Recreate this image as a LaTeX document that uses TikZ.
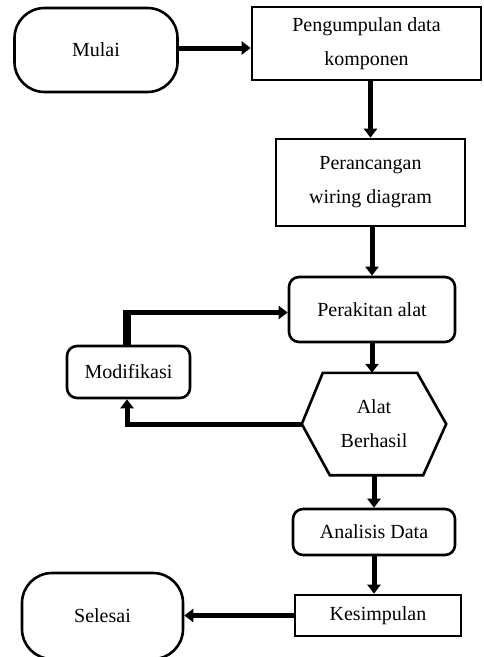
\documentclass[tikz,border=0pt]{standalone}
\usepackage{fontspec}
\setmainfont{Liberation Serif}
\usetikzlibrary{arrows.meta,calc}
\begin{document}
\begin{tikzpicture}[x=1pt,y=-1pt,
  txt/.style={font=\fontsize{20}{34}\selectfont, align=center, inner sep=0pt},
  boxrect/.style={txt, draw, line width=2.6pt, rectangle},
  boxround/.style={txt, draw, line width=2.6pt, rectangle, rounded corners=10pt},
  stadium/.style={txt, draw, line width=2.6pt, rectangle, rounded corners=30pt},
  arr/.style={line width=5pt, -{Triangle[length=9pt,width=13pt]}}
]
\useasboundingbox (0,0) rectangle (483,657);
\fill[white] (0,0) rectangle (483,657);

\node[stadium, minimum width=163pt, minimum height=84pt] (mulai) at (96,50) {Mulai};
\node[boxrect, minimum width=229pt, minimum height=73pt] (peng) at (366.5,43.5) {\raisebox{-3pt}{Pengumpulan data}\\\raisebox{-3pt}{komponen}};
\node[boxrect, minimum width=189pt, minimum height=87pt] (perc) at (370.5,182.5) {Perancangan\\wiring diagram};
\node[boxround, minimum width=166pt, minimum height=65pt] (perak) at (372,309.5) {Perakitan alat};
\node[txt, minimum width=144pt, minimum height=102pt] (alat) at (374,424) {Alat\\Berhasil};
\draw[line width=2.6pt, line join=miter]
  (alat.west) -- ($(alat.north west)+(21,0)$) -- ($(alat.north east)+(-29,0)$)
  -- (alat.east) -- ($(alat.south east)+(-23,0)$) -- ($(alat.south west)+(28,0)$) -- cycle;
\node[boxround, minimum width=123pt, minimum height=52pt] (modif) at (128.5,372) {Modifikasi};
\node[boxround, minimum width=162pt, minimum height=46pt] (ana) at (374,532) {Analisis Data};
\node[boxrect, minimum width=166pt, minimum height=41pt] (kes) at (378,615.5) {Kesimpulan};
\node[stadium, minimum width=161pt, minimum height=86pt] (sel) at (102.5,616) {Selesai};

\coordinate (m1) at ($(mulai.east)+(0,-2)$);
\coordinate (mt) at ($(modif.north)+(-1.5,0)$);
\coordinate (mb) at ($(modif.south)+(-1.5,0)$);
\coordinate (pw) at ($(perak.west)+(0,3)$);

\draw[arr] (m1) -- (m1 -| peng.west);
\draw[arr] (peng.south -| perc.north) -- (perc.north);
\draw[arr] (perc.south -| perak.north) -- (perak.north);
\draw[arr] (perak.south) -- (perak.south |- alat.north);
\draw[arr] (alat.south) -- (ana.north);
\draw[arr] (ana.south) -- (ana.south |- kes.north);
\draw[arr] (kes.west) -- (kes.west -| sel.east);
\draw[arr] (alat.west) -| (mb);
\draw[line width=8pt] (mt) -- ($(mt |- pw)+(0,-2.5)$);
\draw[arr] ($(mt |- pw)+(-4,0)$) -- (pw);
\end{tikzpicture}
\end{document}
